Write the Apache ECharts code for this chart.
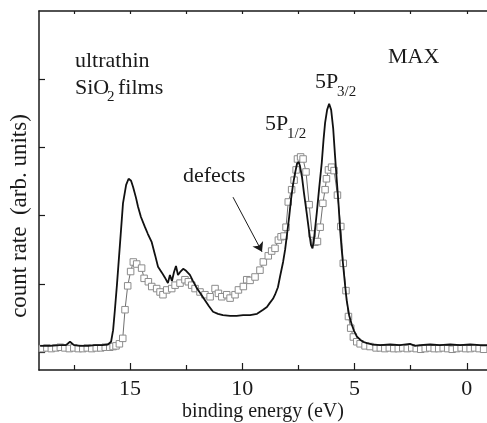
<!DOCTYPE html>
<html>
<head>
<meta charset="utf-8">
<script src="https://cdn.jsdelivr.net/npm/echarts@6/dist/echarts.min.js"></script>
<style>
  html, body { margin: 0; padding: 0; background: #fff; }
  #chart { width: 487px; height: 423px; }
</style>
</head>
<body>
<div id="chart"></div>
<script>
// binding energy (eV) / count rate pairs
const solidCurve = [
  [19.0, 0.09], [18.56, 0.09], [18.12, 0.10], [17.85, 0.10], [17.67, 0.15], [17.49, 0.10],
  [17.22, 0.09], [16.87, 0.09], [16.56, 0.10], [16.24, 0.10], [15.98, 0.11], [15.84, 0.15],
  [15.75, 0.32], [15.67, 0.62], [15.58, 0.98], [15.44, 1.60], [15.31, 2.18], [15.17, 2.45],
  [15.06, 2.54], [14.95, 2.51], [14.86, 2.42], [14.73, 2.26], [14.64, 2.13], [14.51, 1.98],
  [14.33, 1.83], [14.20, 1.73], [14.03, 1.61], [13.88, 1.42], [13.75, 1.25], [13.57, 1.16],
  [13.44, 1.09], [13.31, 1.01], [13.22, 1.13], [13.13, 1.04], [13.04, 1.17], [12.95, 1.26],
  [12.86, 1.13], [12.77, 1.17], [12.63, 1.22], [12.50, 1.19], [12.33, 1.13], [12.19, 1.04],
  [12.03, 0.94], [11.88, 0.87], [11.66, 0.76], [11.48, 0.67], [11.30, 0.59], [11.08, 0.56],
  [10.86, 0.54], [10.54, 0.53], [10.25, 0.53], [9.96, 0.54], [9.65, 0.54], [9.34, 0.56],
  [9.07, 0.62], [8.90, 0.66], [8.77, 0.72], [8.63, 0.78], [8.54, 0.84], [8.41, 0.95],
  [8.32, 1.10], [8.18, 1.32], [8.09, 1.50], [8.00, 1.74], [7.91, 1.98], [7.83, 2.23],
  [7.74, 2.45], [7.65, 2.62], [7.56, 2.76], [7.49, 2.79], [7.43, 2.73], [7.34, 2.57],
  [7.25, 2.33], [7.13, 2.04], [7.02, 1.76], [6.94, 1.57], [6.87, 1.52], [6.80, 1.67],
  [6.68, 2.04], [6.58, 2.38], [6.46, 2.77], [6.38, 3.11], [6.31, 3.36], [6.22, 3.55],
  [6.13, 3.64], [6.04, 3.55], [5.95, 3.28], [5.87, 2.89], [5.79, 2.52], [5.71, 2.16],
  [5.64, 1.79], [5.57, 1.50], [5.50, 1.25], [5.42, 0.98], [5.35, 0.76], [5.24, 0.54],
  [5.12, 0.40], [5.02, 0.31], [4.90, 0.23], [4.75, 0.18], [4.62, 0.15], [4.45, 0.13],
  [4.22, 0.11], [3.86, 0.10], [3.41, 0.11], [2.97, 0.10], [2.53, 0.12], [2.30, 0.09],
  [2.08, 0.10], [1.63, 0.11], [1.19, 0.10], [0.74, 0.11], [0.30, 0.10], [-0.15, 0.11],
  [-0.59, 0.10], [-0.90, 0.10]
];

const squareCurve = [
  [18.9, 0.05], [18.7, 0.06], [18.5, 0.05], [18.3, 0.06], [18.1, 0.07], [17.9, 0.06],
  [17.7, 0.05], [17.5, 0.06], [17.3, 0.05], [17.1, 0.05], [16.9, 0.06], [16.7, 0.05],
  [16.5, 0.06], [16.3, 0.06], [16.1, 0.07], [15.9, 0.07], [15.75, 0.08], [15.62, 0.09],
  [15.47, 0.12], [15.32, 0.20], [15.22, 0.62], [15.10, 0.97], [14.97, 1.18], [14.85, 1.32],
  [14.70, 1.29], [14.48, 1.23], [14.37, 1.08], [14.18, 1.03], [14.03, 0.96], [13.81, 0.93],
  [13.66, 0.88], [13.53, 0.84], [13.36, 0.91], [13.14, 0.93], [12.99, 0.98], [12.77, 1.01],
  [12.55, 1.06], [12.40, 1.03], [12.25, 0.98], [12.10, 0.93], [11.88, 0.88], [11.66, 0.84],
  [11.43, 0.81], [11.21, 0.93], [11.06, 0.86], [10.91, 0.81], [10.69, 0.84], [10.54, 0.79],
  [10.32, 0.84], [10.17, 0.91], [9.95, 0.96], [9.80, 1.06], [9.65, 1.05], [9.43, 1.10],
  [9.21, 1.20], [9.06, 1.32], [8.84, 1.41], [8.69, 1.48], [8.54, 1.52], [8.39, 1.64],
  [8.27, 1.69], [8.14, 1.70], [8.05, 1.83], [7.95, 2.20], [7.80, 2.38], [7.69, 2.52],
  [7.60, 2.67], [7.54, 2.83], [7.40, 2.86], [7.29, 2.83], [7.16, 2.64], [7.02, 2.16],
  [6.89, 1.73], [6.76, 1.61], [6.65, 1.62], [6.53, 1.83], [6.41, 2.18], [6.31, 2.38],
  [6.25, 2.54], [6.16, 2.67], [6.02, 2.71], [5.91, 2.66], [5.76, 2.30], [5.61, 1.84],
  [5.50, 1.30], [5.38, 0.90], [5.27, 0.52], [5.17, 0.35], [5.05, 0.22], [4.90, 0.15],
  [4.75, 0.12], [4.53, 0.09], [4.31, 0.08], [4.04, 0.06], [3.85, 0.06], [3.65, 0.05],
  [3.45, 0.06], [3.25, 0.05], [3.05, 0.05], [2.85, 0.06], [2.65, 0.05], [2.45, 0.06],
  [2.25, 0.05], [2.05, 0.04], [1.85, 0.05], [1.65, 0.06], [1.45, 0.05], [1.25, 0.05],
  [1.05, 0.06], [0.85, 0.05], [0.65, 0.04], [0.45, 0.05], [0.25, 0.06], [0.05, 0.05],
  [-0.15, 0.05], [-0.35, 0.06], [-0.55, 0.05], [-0.75, 0.04]
];

const xMajorTicks = [0, 5, 10, 15];
const xMinorTicks = [2.5, 7.5, 12.5, 17.5];
const xTopTicks = [0, 2.5, 5, 7.5, 10, 12.5, 15, 17.5];
const yTicks = [0, 1, 2, 3, 4];
const defectsArrow = [[10.41, 2.27], [9.12, 1.47]];

const serif = "Liberation Serif";
const ink = "#1a1a1a";

const chart = echarts.init(document.getElementById("chart"));

const xRange = { type: "value", inverse: true, min: -0.9, max: 19.05, splitLine: { show: false } };

const option = {
  animation: false,
  backgroundColor: "#fff",
  grid: { left: 39, right: 0, top: 11, bottom: 53, containLabel: false, outerBoundsMode: "none" },
  xAxis: [
    {
      ...xRange,
      position: "bottom",
      axisLine: { show: true, onZero: false, lineStyle: { color: ink, width: 1.5 } },
      axisTick: { show: true, inside: true, length: 7, customValues: xMajorTicks, lineStyle: { color: ink, width: 1.2 } },
      axisLabel: { show: true, customValues: xMajorTicks, margin: 8, color: ink, fontFamily: serif, fontSize: 22 },
      name: "binding energy (eV)",
      nameLocation: "middle",
      nameGap: 32,
      nameMoveOverlap: false,
      nameTextStyle: { color: ink, fontFamily: serif, fontSize: 20 }
    },
    {
      ...xRange,
      position: "bottom",
      axisLine: { show: false, onZero: false },
      axisTick: { show: true, inside: true, length: 5, customValues: xMinorTicks, lineStyle: { color: ink, width: 1.2 } },
      axisLabel: { show: false }
    },
    {
      ...xRange,
      position: "top",
      axisLine: { show: true, onZero: false, lineStyle: { color: ink, width: 1.5 } },
      axisTick: { show: true, inside: true, length: 3, customValues: xTopTicks, lineStyle: { color: ink, width: 1.2 } },
      axisLabel: { show: false }
    }
  ],
  yAxis: {
    type: "value",
    min: -0.264,
    max: 5,
    position: "left",
    splitLine: { show: false },
    axisLine: { show: true, onZero: false, lineStyle: { color: ink, width: 1.5 } },
    axisTick: { show: true, inside: true, length: 6, customValues: yTicks, lineStyle: { color: ink, width: 1.2 } },
    axisLabel: { show: false }
  },
  series: [
    {
      name: "defects",
      type: "line",
      data: squareCurve,
      symbol: "rect",
      symbolSize: 6.5,
      itemStyle: { color: "#fff", borderColor: "#8c8c8c", borderWidth: 1 },
      lineStyle: { color: "#707070", width: 1 },
      markLine: {
        silent: true,
        symbol: ["none", "arrow"],
        symbolSize: 9,
        label: { show: false },
        lineStyle: { color: ink, width: 1, type: "solid" },
        data: [[{ coord: defectsArrow[0] }, { coord: defectsArrow[1] }]]
      },
      z: 2
    },
    {
      name: "clean",
      type: "line",
      data: solidCurve,
      symbol: "none",
      lineStyle: { color: "#111", width: 1.8 },
      z: 3
    }
  ],
  graphic: [
    { type: "text", left: 75, top: 50, style: { text: "ultrathin", font: `22px "${serif}"`, fill: ink } },
    { type: "text", left: 75, top: 77, style: { text: "SiO", font: `22px "${serif}"`, fill: ink } },
    { type: "text", left: 107, top: 90, style: { text: "2", font: `15px "${serif}"`, fill: ink } },
    { type: "text", left: 118, top: 77, style: { text: "films", font: `22px "${serif}"`, fill: ink } },
    { type: "text", left: 388, top: 46, style: { text: "MAX", font: `22px "${serif}"`, fill: ink } },
    { type: "text", left: 315, top: 71, style: { text: "5P", font: `22px "${serif}"`, fill: ink } },
    { type: "text", left: 337, top: 85, style: { text: "3/2", font: `15px "${serif}"`, fill: ink } },
    { type: "text", left: 265, top: 113, style: { text: "5P", font: `22px "${serif}"`, fill: ink } },
    { type: "text", left: 287, top: 127, style: { text: "1/2", font: `15px "${serif}"`, fill: ink } },
    { type: "text", left: 183, top: 165, style: { text: "defects", font: `22px "${serif}"`, fill: ink } },
    {
      type: "text",
      x: 20,
      y: 216,
      rotation: Math.PI / 2,
      style: {
        text: "count rate  (arb. units)",
        font: `23px "${serif}"`,
        fill: ink,
        textAlign: "center",
        textVerticalAlign: "middle"
      }
    }
  ]
};

chart.setOption(option);
</script>
</body>
</html>
